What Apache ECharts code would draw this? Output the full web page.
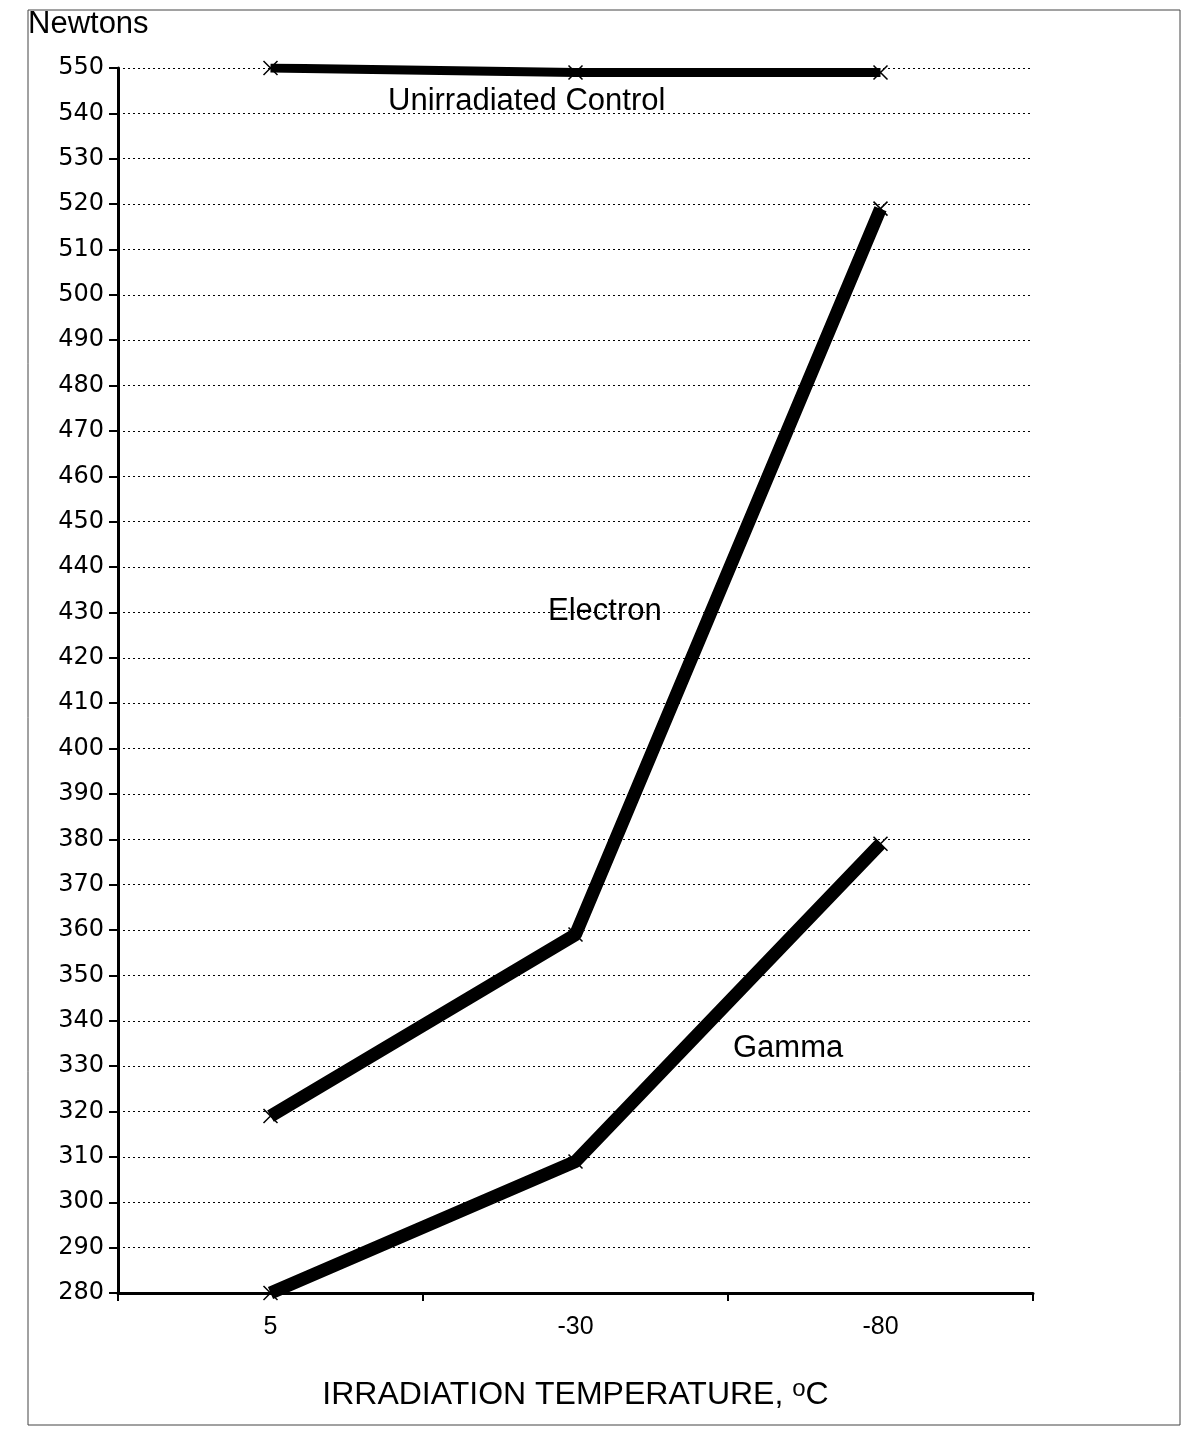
<!DOCTYPE html>
<html><head><meta charset="utf-8">
<script src="https://cdn.jsdelivr.net/npm/echarts@6/dist/echarts.min.js"></script>
<style>html,body{margin:0;padding:0;background:#fff}#c{width:1193px;height:1444px}</style>
</head><body><div id="c"></div>
<script>
const categories = ['5', '-30', '-80'];
const controlValues = [550, 549, 549];
const electronValues = [319, 359, 519];
const gammaValues = [280, 309, 379];
const yMin = 280, yMax = 550, yStep = 10;

const cross = 'path://M0,0L10,10M10,0L0,10';
function lineSeries(name, data, width) {
  return {
    name, type: 'line', data,
    symbol: cross, symbolSize: 14,
    itemStyle: { color: 'none', borderColor: '#000', borderWidth: 1.5 },
    lineStyle: { color: '#000', width },
    z: 3
  };
}
const chart = echarts.init(document.getElementById('c'));
chart.setOption({
  animation: false,
  backgroundColor: '#fff',
  grid: { left: 118, right: 160, top: 68, bottom: 151 },
  xAxis: {
    type: 'category', data: categories, boundaryGap: true,
    axisLine: { lineStyle: { color: '#000', width: 3 } },
    axisTick: { show: true, length: 8, lineStyle: { color: '#000', width: 2 }, alignWithLabel: false },
    axisLabel: { fontFamily: 'Liberation Sans', fontSize: 25, color: '#000', margin: 22 },
    name: 'IRRADIATION TEMPERATURE, {s|o}C',
    nameLocation: 'middle', nameGap: 84,
    nameTextStyle: {
      fontFamily: 'Liberation Sans', fontSize: 32, color: '#000',
      rich: { s: { fontFamily: 'Liberation Sans', fontSize: 24, color: '#000', padding: [0, 0, 12, 0] } }
    },
    splitLine: { show: false }
  },
  yAxis: {
    type: 'value', min: yMin, max: yMax, interval: yStep,
    axisLine: { show: true, lineStyle: { color: '#000', width: 3 } },
    axisTick: { show: true, length: 9, lineStyle: { color: '#000', width: 2 } },
    axisLabel: { fontFamily: 'DejaVu Sans', fontSize: 24, color: '#000', margin: 14 },
    splitLine: { show: true, lineStyle: { color: '#000', type: [2, 3], width: 1 } },
    name: 'Newtons', nameLocation: 'end', nameGap: 0,
    nameTextStyle: { fontFamily: 'Liberation Sans', fontSize: 31, color: '#000', align: 'left', verticalAlign: 'bottom', padding: [0, 0, 28, -90] }
  },
  series: [
    lineSeries('Unirradiated Control', controlValues, 9),
    lineSeries('Electron', electronValues, 13),
    lineSeries('Gamma', gammaValues, 13)
  ],
  graphic: [
    { type: 'rect', shape: { x: 28, y: 10, width: 1152, height: 1415 }, style: { fill: 'none', stroke: '#444', lineWidth: 1 }, silent: true },
    { type: 'text', left: 388, top: 86, style: { text: 'Unirradiated Control', font: '31px "Liberation Sans"', fill: '#000' } },
    { type: 'text', left: 548, top: 596, style: { text: 'Electron', font: '31px "Liberation Sans"', fill: '#000' } },
    { type: 'text', left: 733, top: 1033, style: { text: 'Gamma', font: '31px "Liberation Sans"', fill: '#000' } }
  ]
});
</script></body></html>
